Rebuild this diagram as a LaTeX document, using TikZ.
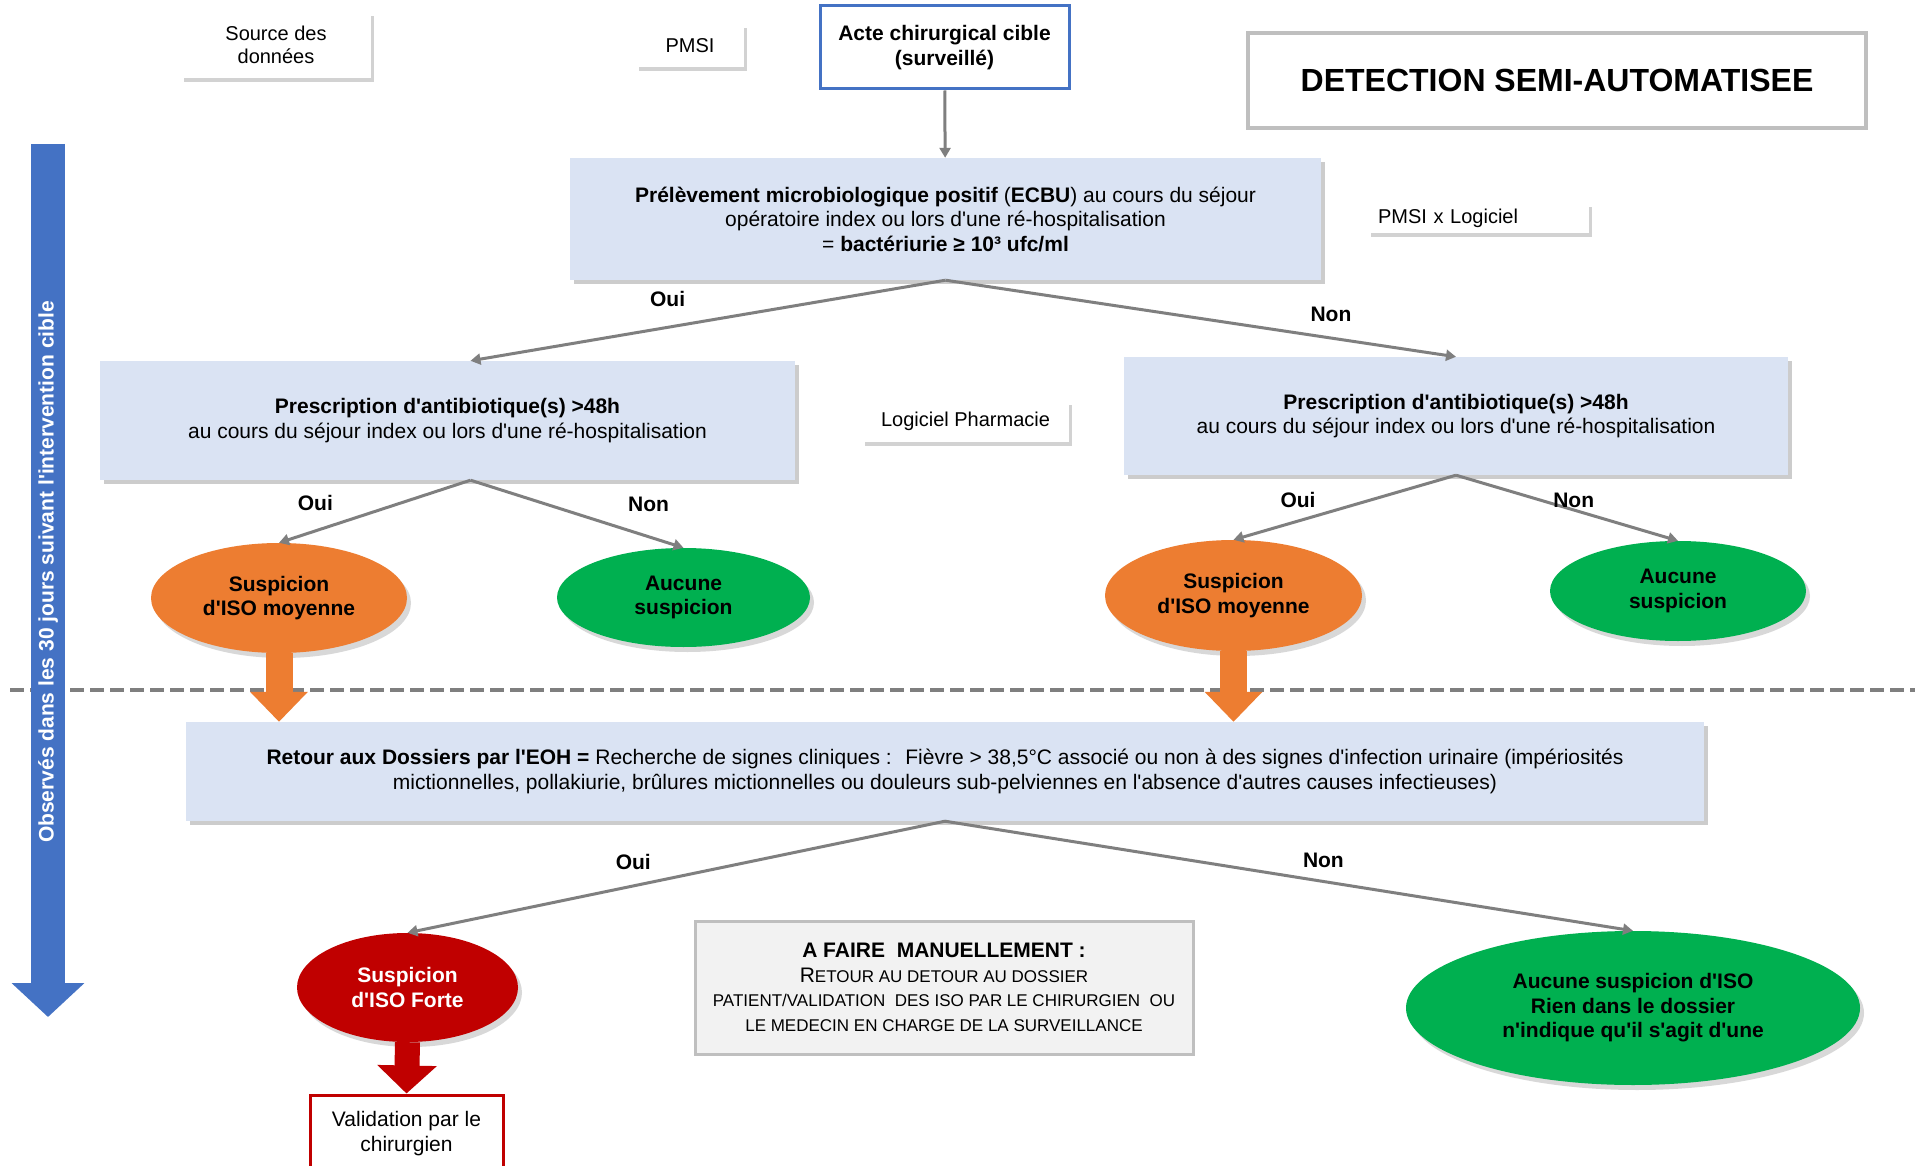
\documentclass[tikz,border=0pt]{standalone}
\usepackage{fontspec}
\setmainfont{Liberation Sans}
\newfontfamily\arialfont{Liberation Sans}
\usetikzlibrary{shapes.geometric,arrows.meta,positioning,shadows}

\definecolor{boxblue}{HTML}{DAE3F3}
\definecolor{edgeblue}{HTML}{4472C4}
\definecolor{isoorange}{HTML}{ED7D31}
\definecolor{isogreen}{HTML}{00B050}
\definecolor{isored}{HTML}{C00000}
\definecolor{linegray}{HTML}{7F7F7F}
\definecolor{framegray}{HTML}{BFBFBF}
\definecolor{manualfill}{HTML}{F2F2F2}

\newcommand\txt{\arialfont\fontsize{21}{24.5}\selectfont}
\newcommand\smalltxt{\arialfont\fontsize{20}{23}\selectfont}
\newcommand\smcp[1]{{\fontsize{17}{25}\selectfont #1}}

\begin{document}
\begin{tikzpicture}[
    x=1pt, y=-1pt,
    % --- STYLES ---
    base/.style={align=center, inner sep=0pt, font=\txt},
    source/.style={
        base, rectangle, fill=white, font=\smalltxt,
        drop shadow={shadow xshift=3pt, shadow yshift=-4pt, opacity=.35}
    },
    infobox/.style={
        base, rectangle, fill=boxblue,
        drop shadow={shadow xshift=4pt, shadow yshift=-4pt, opacity=.4}
    },
    suspicion/.style={
        base, ellipse, font=\bfseries\txt,
        drop shadow={shadow xshift=4pt, shadow yshift=-5pt, opacity=.3}
    },
    answer/.style={base, font=\bfseries\txt},
    flow/.style={draw=linegray, line width=3pt, -{Triangle[length=10pt,width=11pt]}},
    orangearrow/.style={draw=isoorange, line width=27pt, -{Triangle[length=30pt,width=56pt]}},
    redarrow/.style={draw=isored, line width=25pt, -{Triangle[length=28pt,width=58pt]}},
    timeline/.style={draw=edgeblue, line width=34pt, -{Triangle[length=34pt,width=71pt]}},
    separator/.style={draw=linegray, line width=4pt, dash pattern=on 14pt off 6pt}
]

\useasboundingbox (0,0) rectangle (1915,1166);
\fill[white] (0,0) rectangle (1915,1166);

% ===== 1. TIMELINE & SEPARATOR =====
\coordinate (sepL) at (10,690);
\coordinate (sepR) at (1915,690);
\draw[separator] (sepL) -- (sepR);

\coordinate (tTop) at (48,144);
\coordinate (tBot) at (48,1017);
\draw[timeline] (tTop) -- (tBot);
\node[base, rotate=90, text=white, font=\bfseries\txt] (tLabel) at (48,572)
    {Observés dans les 30 jours suivant l'intervention cible};

% ===== 2. SOURCES & TITLE =====
\node[source, minimum width=190pt, minimum height=66pt] (src) at (276,45) {Source des\\ données};
\node[source, minimum width=108pt, minimum height=43pt] (pmsi) at (690,45.5) {PMSI};

\node[base, draw=edgeblue, line width=3pt, fill=white, font=\bfseries\txt,
      minimum width=249pt, minimum height=83pt] (acte) at (944.5,47.5)
    {Acte chirurgical cible\\ (surveillé)};

\node[base, draw=framegray, line width=4pt, fill=white,
      font=\arialfont\bfseries\fontsize{32}{38}\selectfont,
      minimum width=618pt, minimum height=95pt] (title) at (1557,80.5)
    {DETECTION SEMI-AUTOMATISEE};

% ===== 3. ECBU & ANTIBIOTIQUES =====
\node[infobox, minimum width=751pt, minimum height=122pt] (ecbu) at (945.5,219)
    {\textbf{Prélèvement microbiologique positif} (\textbf{ECBU}) au cours du séjour\\
     opératoire index ou lors d'une ré-hospitalisation\\
     = \textbf{bactériurie ≥ 10³ ufc/ml}};

\node[source, align=left, text width=201pt, inner xsep=10pt, minimum height=30pt] (pmsiLog) at (1478.5,218)
    {PMSI x Logiciel};

\node[infobox, minimum width=695pt, minimum height=119pt] (presL) at (447.5,420.5)
    {\textbf{Prescription d'antibiotique(s) >48h}\\
     au cours du séjour index ou lors d'une ré-hospitalisation};

\node[source, minimum width=207pt, minimum height=41pt] (logPharm) at (965.5,421.5)
    {Logiciel Pharmacie};

\node[infobox, minimum width=664pt, minimum height=118pt] (presR) at (1456,416)
    {\textbf{Prescription d'antibiotique(s) >48h}\\
     au cours du séjour index ou lors d'une ré-hospitalisation};

% ===== 4. SUSPICIONS =====
\node[suspicion, fill=isoorange, minimum width=256pt, minimum height=110pt] (moyL) at (279,598)
    {Suspicion\\ d'ISO moyenne};
\node[suspicion, fill=isogreen, minimum width=253pt, minimum height=99pt] (aucL) at (683.5,597.5)
    {Aucune\\ suspicion};
\node[suspicion, fill=isoorange, minimum width=257pt, minimum height=111pt] (moyR) at (1233.5,595.5)
    {Suspicion\\ d'ISO moyenne};
\node[suspicion, fill=isogreen, minimum width=256pt, minimum height=100pt] (aucR) at (1678,591)
    {Aucune\\ suspicion};

% ===== 5. RETOUR AUX DOSSIERS =====
\node[infobox, minimum width=1518pt, minimum height=99pt] (retour) at (945,771.5)
    {\textbf{Retour aux Dossiers par l'EOH =} Recherche de signes cliniques :~ Fièvre > 38,5°C associé ou non à des signes d'infection urinaire (impériosités\\
     mictionnelles, pollakiurie, brûlures mictionnelles ou douleurs sub-pelviennes en l'absence d'autres causes infectieuses)};

\node[suspicion, fill=isored, text=white, minimum width=221pt, minimum height=109pt] (forte) at (407.5,987.5)
    {Suspicion\\ d'ISO Forte};

\node[base, draw=framegray, line width=3pt, fill=manualfill,
      minimum width=498pt, minimum height=133pt] (manual) at (944,987.5)
    {\textbf{A FAIRE~~MANUELLEMENT :}\\
     R\smcp{ETOUR AU DETOUR AU DOSSIER}\\
     \smcp{PATIENT/VALIDATION~ DES ISO PAR LE CHIRURGIEN~ OU}\\
     \smcp{LE MEDECIN EN CHARGE DE LA SURVEILLANCE}};

\node[suspicion, fill=isogreen, minimum width=454pt, minimum height=154pt] (aucune) at (1633,1008)
    {Aucune suspicion d'ISO\\ Rien dans le dossier\\ n'indique qu'il s'agit d'une};

\node[base, draw=isored, line width=3pt, fill=white,
      minimum width=193pt, minimum height=77pt] (valid) at (406.5,1133.5)
    {Validation par le\\ chirurgien};

% ===== 6. CONNECTIONS =====
\draw[flow] (acte) -- (ecbu);

\draw[flow] (ecbu.south) -- node[answer, pos=.585, above=19pt] (ouiA) {Oui} ([xshift=23pt]presL.north);
\draw[flow] (ecbu.south) -- node[answer, pos=.755, above=15pt] (nonA) {Non} (presR.north);

\draw[flow] ([xshift=23pt]presL.south) -- node[answer, pos=.81, above=19pt] (ouiB) {Oui} (moyL.north);
\draw[flow] ([xshift=23pt]presL.south) -- node[answer, pos=.836, above=24pt] (nonB) {Non} (aucL.north);

\draw[flow] (presR.south) -- node[answer, pos=.71, above=12pt] (ouiC) {Oui} (moyR.north);
\draw[flow] (presR.south) -- node[answer, pos=.53, above=1pt] (nonC) {Non} (aucR.north);

\draw[flow] (retour.south) -- node[answer, pos=.58, above=15pt] (ouiD) {Oui} (forte.north);
\draw[flow] (retour.south) -- node[answer, pos=.55, above=12pt] (nonD) {Non} (aucune.north);

% -- block arrows --
\draw[orangearrow] (moyL.south) -- (moyL.south |- retour.north);
\draw[orangearrow] (moyR.south) -- (moyR.south |- retour.north);
\draw[redarrow] (forte.south) -- (valid.north);

\end{tikzpicture}
\end{document}
